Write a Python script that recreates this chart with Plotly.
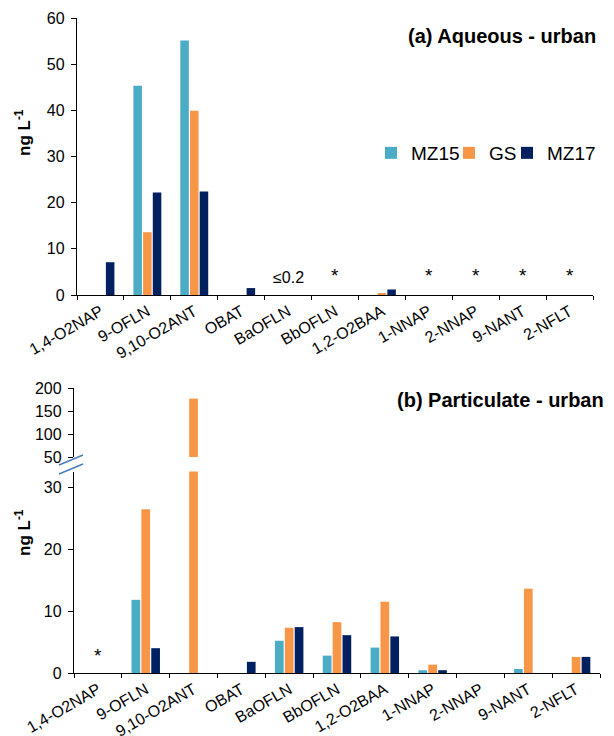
import plotly.graph_objects as go

categories = ["1,4-O2NAP", "9-OFLN", "9,10-O2ANT", "OBAT", "BaOFLN", "BbOFLN",
              "1,2-O2BAA", "1-NNAP", "2-NNAP", "9-NANT", "2-NFLT"]
series = ["MZ15", "GS", "MZ17"]
colors = {"MZ15": "#4BACC6", "GS": "#F79646", "MZ17": "#002060"}

# (a) Aqueous - urban, ng/L
aq_mz15 = [0, 45.3, 55.1, 0, 0, 0, 0, 0, 0, 0, 0]
aq_gs = [0, 13.6, 39.9, 0, 0, 0, 0.3, 0, 0, 0, 0]
aq_mz17 = [7.1, 22.2, 22.4, 1.5, 0, 0, 1.2, 0, 0, 0, 0]

# (b) Particulate - urban, ng/L
pa_mz15 = [0, 11.8, 0, 0, 5.2, 2.8, 4.1, 0.45, 0, 0.65, 0]
pa_gs = [0, 26.4, 177, 0, 7.3, 8.2, 11.5, 1.35, 0, 13.6, 2.6]
pa_mz17 = [0, 4.0, 0, 1.8, 7.4, 6.1, 5.9, 0.45, 0, 0, 2.6]

aq_star = ["BbOFLN", "1-NNAP", "2-NNAP", "9-NANT", "2-NFLT"]
aq_note = ("BaOFLN", "≤0.2")
pa_star = ["1,4-O2NAP"]

aq = {"MZ15": aq_mz15, "GS": aq_gs, "MZ17": aq_mz17}
pa = {"MZ15": pa_mz15, "GS": pa_gs, "MZ17": pa_mz17}

W, H = 614, 736
OFF = 8  # page body margin
FONT = "Liberation Sans, Arial, sans-serif"

def px(x):
    return (x - OFF) / W

def py(y):
    return 1 - (y - OFF) / H

legend_ids = {"MZ15": "legend", "GS": "legend2", "MZ17": "legend3"}
legend_sym_x = {"MZ15": 391, "GS": 469, "MZ17": 527}

fig = go.Figure()
for s in series:
    fig.add_trace(go.Bar(x=categories, y=aq[s], name=s, marker_color=colors[s],
                         marker_line_width=0, xaxis="x", yaxis="y",
                         legend=legend_ids[s]))
for s in series:
    fig.add_trace(go.Bar(x=categories, y=pa[s], name=s, marker_color=colors[s],
                         marker_line_width=0, xaxis="x2", yaxis="y2", showlegend=False))
for s in series:
    fig.add_trace(go.Bar(x=categories, y=pa[s], name=s, marker_color=colors[s],
                         marker_line_width=0, xaxis="x2", yaxis="y3", showlegend=False))

axis_common = dict(showline=True, linecolor="black", linewidth=1.3, ticks="outside",
                   ticklen=5, tickcolor="black", showgrid=False, zeroline=False,
                   automargin=False,
                   tickfont=dict(family=FONT, size=16, color="black"))
xaxis_common = dict(axis_common, tickangle=-30, tickson="boundaries", ticklen=4,
                    tickfont=dict(family=FONT, size=16, color="black"))
yaxis_common = dict(axis_common, ticklabelstandoff=3)

def legend_box(s):
    return dict(x=px(legend_sym_x[s] - 20), y=py(153), xanchor="left", yanchor="middle",
                font=dict(family=FONT, size=19, color="black"), itemwidth=30,
                bgcolor="rgba(0,0,0,0)", borderwidth=0)

lower_top = 32.5
fig.update_layout(
    width=W, height=H,
    margin=dict(l=0, r=0, t=0, b=0),
    paper_bgcolor="white", plot_bgcolor="white",
    barmode="group", bargap=0.38, bargroupgap=0.12,
    font=dict(family=FONT, color="black"),
    xaxis=dict(xaxis_common, domain=[px(77), px(593)], anchor="y"),
    yaxis=dict(yaxis_common, domain=[py(295), py(18)], range=[0, 60], anchor="x",
               tickvals=[0, 10, 20, 30, 40, 50, 60]),
    xaxis2=dict(xaxis_common, domain=[px(74), px(600)], anchor="y2"),
    yaxis2=dict(yaxis_common, domain=[py(673), py(673 - lower_top * 6.2)],
                range=[0, lower_top], anchor="x2", tickvals=[0, 10, 20, 30]),
    yaxis3=dict(yaxis_common, domain=[py(457), py(388)], range=[50, 200], anchor="x2",
                tickvals=[50, 100, 150, 200]),
    legend=legend_box("MZ15"),
    legend2=legend_box("GS"),
    legend3=legend_box("MZ17"),
)

# titles
fig.add_annotation(text="<b>(a) Aqueous - urban</b>", xref="paper", yref="paper",
                   x=px(598), y=py(36), xanchor="right", yanchor="middle", showarrow=False,
                   font=dict(family=FONT, size=20, color="black"))
fig.add_annotation(text="<b>(b) Particulate - urban</b>", xref="paper", yref="paper",
                   x=px(606), y=py(400), xanchor="right", yanchor="middle", showarrow=False,
                   font=dict(family=FONT, size=20, color="black"))
# y-axis titles
for yy in (133, 533):
    fig.add_annotation(text="<b>ng L<sup>-1</sup></b>", xref="paper", yref="paper",
                       x=px(23), y=py(yy), xanchor="center", yanchor="middle",
                       textangle=-90, showarrow=False,
                       font=dict(family=FONT, size=17, color="black"))

# data annotations
for c in aq_star:
    fig.add_annotation(text="*", x=c, y=4.3, xref="x", yref="y", showarrow=False,
                       font=dict(family=FONT, size=19, color="black"))
fig.add_annotation(text=aq_note[1], x=aq_note[0], y=3.7, xref="x", yref="y",
                   showarrow=False, font=dict(family=FONT, size=16, color="black"))
for c in pa_star:
    fig.add_annotation(text="*", x=c, y=2.8, xref="x2", yref="y2", showarrow=False,
                       font=dict(family=FONT, size=19, color="black"))

# axis break marks
for (x0, y0, x1, y1) in [(59, 465, 83, 455), (59, 474, 83, 464)]:
    fig.add_shape(type="line", xref="paper", yref="paper", x0=px(x0), y0=py(y0),
                  x1=px(x1), y1=py(y1), line=dict(color="#4A7EBB", width=1.5))

fig.write_html("out.html", config={"displayModeBar": False})
